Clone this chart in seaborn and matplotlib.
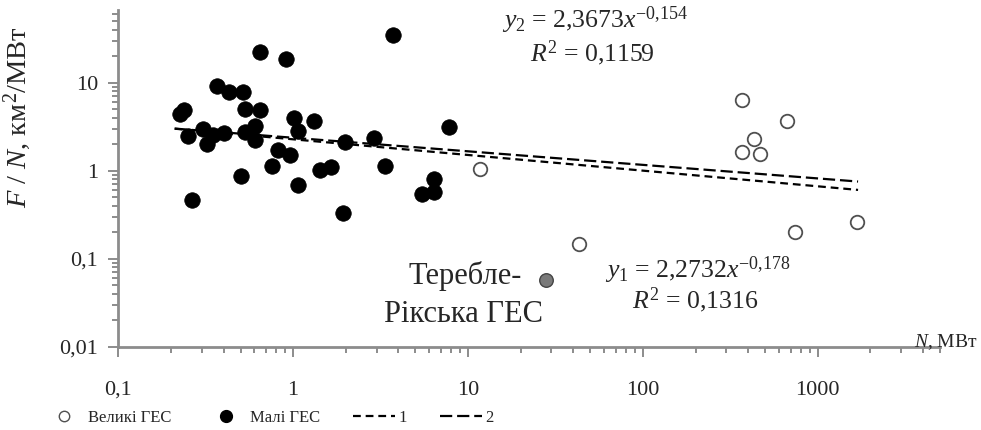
import matplotlib
matplotlib.use("Agg")
import matplotlib.pyplot as plt
from matplotlib.lines import Line2D
from matplotlib.ticker import FixedLocator, LogLocator, NullFormatter
import numpy as np
import seaborn as sns

# Малі ГЕС (N, МВт ; F/N, км2/МВт)
small_x = [0.225, 0.237, 0.250, 0.265, 0.307, 0.321, 0.346, 0.400, 0.366, 0.431,
           0.514, 0.530, 0.649, 0.649, 0.912, 0.503, 0.530, 0.605, 0.605, 1.01,
           1.064, 0.817, 0.755, 0.965, 1.064, 1.315, 1.416, 1.64, 1.97, 1.93,
           2.91, 3.35, 3.74, 6.35, 5.44, 6.35, 7.75]
small_y = [4.41, 4.93, 2.50, 0.465, 2.98, 2.03, 2.57, 2.68, 9.25, 7.9,
           7.9, 5.02, 4.93, 22.1, 18.7, 0.877, 2.72, 3.25, 2.25, 3.97,
           2.85, 1.70, 1.12, 1.49, 0.68, 3.63, 1.03, 1.10, 2.10, 0.33,
           2.35, 1.12, 35.1, 0.81, 0.55, 0.57, 3.10]

# Великі ГЕС
large_x = [11.7, 42.9, 371, 666, 430, 369, 469, 745, 1668]
large_y = [1.05, 0.148, 6.3, 3.63, 2.29, 1.63, 1.56, 0.199, 0.261]

# Теребле-Рікська ГЕС
tereble_x = [27.8]
tereble_y = [0.058]

# power trendlines y = a * x^b
fit1 = (2.2732, -0.178)
fit2 = (2.3673, -0.154)
fit_range = [0.21, 1700]

x_ticks = [0.1, 1, 10, 100, 1000]
x_labels = ["0,1", "1", "10", "100", "1000"]
y_ticks = [0.01, 0.1, 1, 10]
y_labels = ["0,01", "0,1", "1", "10"]

sns.set_style("ticks")
plt.rcParams["font.family"] = ["Liberation Serif", "DejaVu Serif"]
plt.rcParams["mathtext.fontset"] = "custom"
plt.rcParams["mathtext.rm"] = "Liberation Serif"
plt.rcParams["mathtext.it"] = "Liberation Serif:italic"

W, H = 981, 430
fig = plt.figure(figsize=(W / 100, H / 100), dpi=100)
ax = fig.add_axes([118.3 / W, (H - 346.7) / H, (940 - 118.3) / W, (346.7 - 10) / H])

def px(x, y):
    return x / W, 1 - y / H

# trend lines
fx = np.array(fit_range)
y1 = fit1[0] * fx ** fit1[1]
y2 = fit2[0] * fx ** fit2[1]
dash1 = (3.5, 2.2)
dash2 = (5.5, 2.2)
sns.lineplot(x=fx, y=y1, ax=ax, color="black", lw=1.6, zorder=2).lines[-1].set_dashes(dash1)
sns.lineplot(x=fx, y=y2, ax=ax, color="black", lw=1.6, zorder=2).lines[-1].set_dashes(dash2)

sns.scatterplot(x=small_x, y=small_y, ax=ax, color="black", edgecolor="black",
                s=125, linewidth=0.5, zorder=3)
sns.scatterplot(x=large_x, y=large_y, ax=ax, color="white", edgecolor="#505050",
                s=95, linewidth=1.3, zorder=3)
sns.scatterplot(x=tereble_x, y=tereble_y, ax=ax, color="#7a7a7a", edgecolor="#444444",
                s=95, linewidth=1.0, zorder=3)

ax.set_xscale("log")
ax.set_yscale("log")
ax.set_xlim(0.1, 5000)
ax.set_ylim(0.01, 67)

ax.xaxis.set_major_locator(FixedLocator(x_ticks))
ax.set_xticklabels(x_labels)
ax.yaxis.set_major_locator(FixedLocator(y_ticks))
ax.set_yticklabels(y_labels)
ax.xaxis.set_minor_locator(LogLocator(base=10, subs=np.arange(2, 10)))
ax.yaxis.set_minor_locator(LogLocator(base=10, subs=np.arange(2, 10)))
ax.xaxis.set_minor_formatter(NullFormatter())
ax.yaxis.set_minor_formatter(NullFormatter())

gray = "#8c8c8c"
for side in ["top", "right"]:
    ax.spines[side].set_visible(False)
for side in ["left", "bottom"]:
    ax.spines[side].set_color(gray)
    ax.spines[side].set_linewidth(2)
ax.tick_params(axis="both", which="major", length=7.5, width=1.4, color=gray, labelsize=16)
ax.tick_params(axis="both", which="minor", length=4.5, width=1.4, color=gray)
ax.tick_params(axis="x", which="major", pad=17)
ax.tick_params(axis="y", which="major", pad=7)
ax.set_xlabel("")
ax.set_ylabel("")

# axis titles
fig.text(*px(17, 117), r"$\it{F}$ / $\it{N}$, км$^2$/МВт", rotation=90,
         ha="center", va="center", fontsize=20.5)
fig.text(*px(977, 347), r"$\it{N}$, МВт", ha="right", va="baseline", fontsize=14)

# equations
fig.text(*px(502, 28), r"$y_2$ = 2,3673$x^{\mathrm{-0{,}154}}$", ha="left", va="baseline", fontsize=18.5)
fig.text(*px(530, 61), r"$R^2$ = 0,1159", ha="left", va="baseline", fontsize=18.5)
fig.text(*px(605, 278), r"$y_1$ = 2,2732$x^{\mathrm{-0{,}178}}$", ha="left", va="baseline", fontsize=18.5)
fig.text(*px(632, 308), r"$R^2$ = 0,1316", ha="left", va="baseline", fontsize=18.5)

# label for Tereble-Rikska
fig.text(*px(465, 284), "Теребле-", ha="center", va="baseline", fontsize=22)
fig.text(*px(464, 322), "Рікська ГЕС", ha="center", va="baseline", fontsize=22)

handles = [
    Line2D([], [], ls="none", marker="o", mfc="white", mec="#505050", ms=7.5, mew=1),
    Line2D([], [], ls="none", marker="o", mfc="black", mec="black", ms=8.5),
    Line2D([], [], color="black", lw=1.6, dashes=dash1),
    Line2D([], [], color="black", lw=1.6, dashes=dash2),
]
labels = ["Великі ГЕС", "Малі ГЕС", "1", "2"]
fig.legend(handles, labels, loc="center left", bbox_to_anchor=px(43, 418), ncol=4,
           frameon=False, fontsize=12, handlelength=2.5, handletextpad=0.2,
           columnspacing=2.0, borderpad=0, borderaxespad=0)

fig.savefig("out.png", dpi=100)
